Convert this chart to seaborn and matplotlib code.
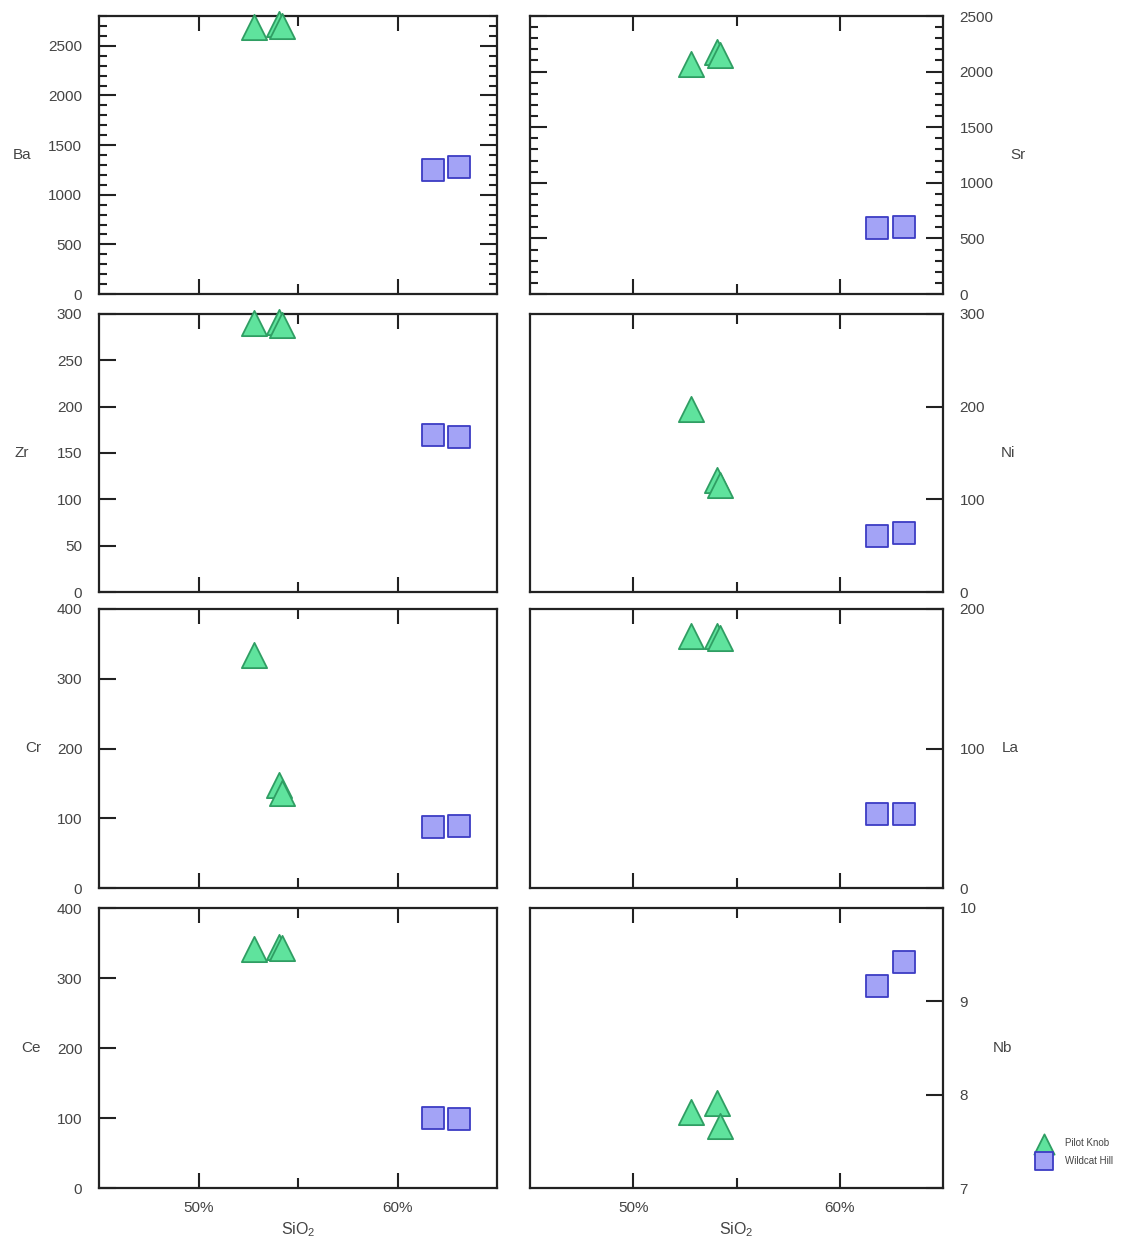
import pandas as pd
import seaborn as sns
import matplotlib.pyplot as plt
from matplotlib.ticker import MultipleLocator, FixedLocator


# SiO2 (%) of the samples
localities = ['Pilot Knob', 'Wildcat Hill']
sio2_pk = [52.8, 54.05, 54.2]
sio2_wh = [61.8, 63.1]

# trace elements (ppm), Pilot Knob then Wildcat Hill
ba_pk = [2690, 2720, 2695]
ba_wh = [1244, 1284]
sr_pk = [2067, 2180, 2150]
sr_wh = [596, 605]
zr_pk = [290, 291, 288]
zr_wh = [169, 167]
ni_pk = [198, 121, 116]
ni_wh = [60, 64]
cr_pk = [334, 148, 136]
cr_wh = [87, 89]
la_pk = [181, 181, 179]
la_wh = [53, 53]
ce_pk = [341, 344, 343]
ce_wh = [100, 99]
nb_pk = [7.81, 7.91, 7.66]
nb_wh = [9.16, 9.42]

df = pd.DataFrame({
    'SiO2': sio2_pk + sio2_wh,
    'locality': ['Pilot Knob'] * 3 + ['Wildcat Hill'] * 2,
    'Ba': ba_pk + ba_wh,
    'Sr': sr_pk + sr_wh,
    'Zr': zr_pk + zr_wh,
    'Ni': ni_pk + ni_wh,
    'Cr': cr_pk + cr_wh,
    'La': la_pk + la_wh,
    'Ce': ce_pk + ce_wh,
    'Nb': nb_pk + nb_wh,
})

layout = [['Ba', 'Sr'], ['Zr', 'Ni'], ['Cr', 'La'], ['Ce', 'Nb']]
ylims = {'Ba': (0, 2800), 'Sr': (0, 2500), 'Zr': (0, 300), 'Ni': (0, 300),
         'Cr': (0, 400), 'La': (0, 200), 'Ce': (0, 400), 'Nb': (7, 10)}
ysteps = {'Ba': 500, 'Sr': 500, 'Zr': 50, 'Ni': 100,
          'Cr': 100, 'La': 100, 'Ce': 100, 'Nb': 1}
label_x = {'Ba': -0.193, 'Zr': -0.193, 'Cr': -0.165, 'Ce': -0.17,
           'Sr': 1.182, 'Ni': 1.157, 'La': 1.162, 'Nb': 1.145}

styles = {
    'Pilot Knob': dict(marker='^', s=330, color='#5fe39d', edgecolor='#2f9e63'),
    'Wildcat Hill': dict(marker='s', s=250, color='#a3a3f6', edgecolor='#3c3cc4'),
}

sns.set_style('white')
plt.rcParams['font.family'] = ['Liberation Sans', 'DejaVu Sans']
plt.rcParams['mathtext.default'] = 'regular'
txt = '#444444'

fig = plt.figure(figsize=(11.39, 12.49), dpi=100)
W, H = 1139, 1249
cols = [(99, 398), (530, 413)]
rows = [(16, 294), (314, 592), (609, 888), (908, 1188)]

handles = []
for r, (top, bot) in enumerate(rows):
    for c, (left, width) in enumerate(cols):
        el = layout[r][c]
        ax = fig.add_axes([left / W, 1 - bot / H, width / W, (bot - top) / H])
        for loc in localities:
            sub = df[df['locality'] == loc]
            st = styles[loc]
            sns.scatterplot(data=sub, x='SiO2', y=el, marker=st['marker'], s=st['s'],
                            color=st['color'], edgecolor=st['edgecolor'], linewidth=1.3,
                            clip_on=False, zorder=3, legend=False, ax=ax, label=loc)
        if r == 0 and c == 0:
            handles = list(ax.collections)

        ax.set_xlim(45, 65)
        ax.set_ylim(*ylims[el])
        ax.xaxis.set_major_locator(FixedLocator([50, 60]))
        ax.xaxis.set_minor_locator(FixedLocator([55]))
        ax.set_xticklabels(['50%', '60%'])
        ax.tick_params(axis='x', which='both', direction='in', top=True, bottom=True,
                       labelbottom=(r == 3), color='#222222', width=1.5,
                       labelsize=11, labelcolor=txt, pad=9)
        ax.tick_params(axis='x', which='major', length=11)
        ax.tick_params(axis='x', which='minor', length=7)

        ax.yaxis.set_major_locator(MultipleLocator(ysteps[el]))
        if r == 0:
            ax.yaxis.set_minor_locator(MultipleLocator(100))
        ax.tick_params(axis='y', which='both', direction='in',
                       left=(c == 0 or r == 0), right=(c == 1 or r == 0),
                       labelleft=(c == 0), labelright=(c == 1),
                       color='#222222', width=1.5, labelsize=11, labelcolor=txt, pad=12)
        ax.tick_params(axis='y', which='major', length=12)
        ax.tick_params(axis='y', which='minor', length=6)

        ax.set_ylabel(el, rotation=0, color=txt, fontsize=11, va='center', ha='center')
        ax.yaxis.set_label_coords(label_x[el], 0.5)
        if r == 3:
            ax.set_xlabel('SiO$_2$', color=txt, fontsize=11.5, labelpad=4)
        else:
            ax.set_xlabel('')
        for sp in ax.spines.values():
            sp.set_color('#222222')
            sp.set_linewidth(1.6)

fig.legend(handles, localities, loc='center left',
           bbox_to_anchor=(1037 / W, 1 - 1152 / H), frameon=False, fontsize=7,
           labelcolor=txt, markerscale=0.8, handlelength=1.5, handletextpad=1.4,
           labelspacing=0.8, borderpad=0, borderaxespad=0)

fig.savefig('out.png', dpi=100)
